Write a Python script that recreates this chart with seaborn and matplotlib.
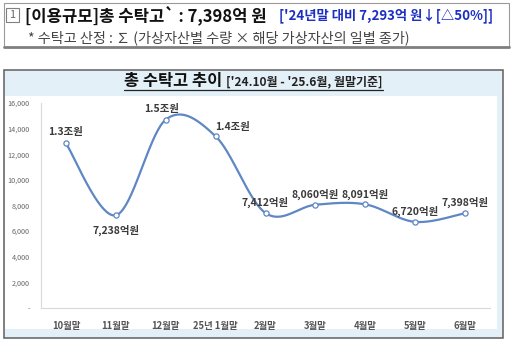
import numpy as np
import pandas as pd
import seaborn as sns
import matplotlib.pyplot as plt
from matplotlib.patches import Rectangle
from matplotlib.lines import Line2D

categories = ['10월말', '11월말', '12월말', '25년 1월말', '2월말', '3월말', '4월말', '5월말', '6월말']
values = [12850, 7238, 14700, 13400, 7412, 8060, 8091, 6720, 7398]
point_labels = ['1.3조원', '7,238억원', '1.5조원', '1.4조원', '7,412억원',
                '8,060억원', '8,091억원', '6,720억원', '7,398억원']
yticks = [0, 2000, 4000, 6000, 8000, 10000, 12000, 14000, 16000]
ytick_labels = ['-', '2,000', '4,000', '6,000', '8,000', '10,000', '12,000', '14,000', '16,000']

sns.set_theme(style='white')
FAM = ['Noto Sans CJK KR', 'DejaVu Sans']
plt.rcParams['font.family'] = FAM

W, H = 512, 346
fig = plt.figure(figsize=(W / 100, H / 100), dpi=100)
fig.patch.set_facecolor('white')


def fx(x):
    return x / W


def fy(y):
    return 1 - y / H


# ---- header box ----
fig.patches.append(Rectangle((fx(4), fy(47)), fx(505), 44 / H, transform=fig.transFigure,
                             facecolor='white', edgecolor='#9a9a9a', lw=0.8, zorder=0))
fig.add_artist(Line2D([fx(4), fx(509)], [fy(47), fy(47)], transform=fig.transFigure,
                      color='#7f7f7f', lw=2.0))
fig.patches.append(Rectangle((fx(6), fy(22)), fx(13), 14 / H, transform=fig.transFigure,
                             facecolor='white', edgecolor='#808080', lw=0.8, zorder=1))
fig.text(fx(12.5), fy(15), '1', fontsize=8, color='#666666', ha='center', va='center')
fig.text(fx(25), fy(15), '[이용규모]총 수탁고` : 7,398억 원', fontsize=12, fontweight='bold',
         color='#111111', ha='left', va='center')
fig.text(fx(279), fy(15.5), "['24년말 대비 7,293억 원↓[△50%]]", fontsize=9.6, fontweight='bold',
         color='#1c2fc4', ha='left', va='center')
fig.text(fx(28), fy(37.5), '* 수탁고 산정 : ∑ (가상자산별 수량 × 해당 가상자산의 일별 종가)', fontsize=10.2,
         color='#444444', ha='left', va='center')

# ---- chart frame ----
fig.patches.append(Rectangle((fx(4), fy(338)), fx(499), 268 / H, transform=fig.transFigure,
                             facecolor='#e4f0f7', edgecolor='#5f5f5f', lw=1.1, zorder=0))
fig.patches.append(Rectangle((fx(5), fy(329)), fx(492), 233 / H, transform=fig.transFigure,
                             facecolor='white', edgecolor='none', lw=0, zorder=0.5))

t1 = fig.text(fx(124), fy(81), '총 수탁고 추이', fontsize=11.8, fontweight='bold', color='#111111',
              ha='left', va='center')
t2 = fig.text(fx(226), fy(81.5), "['24.10월 - '25.6월, 월말기준]", fontsize=8.6, fontweight='bold',
              color='#222222', ha='left', va='center')

# ---- axes ----
ax = fig.add_axes([fx(41), 38 / H, fx(449), 205 / H])
ax.set_facecolor('none')
ax.set_zorder(3)

x = np.arange(len(values))
P = np.column_stack([x, np.array(values, dtype=float)])
Pext = np.vstack([P[0], P, P[-1]])
curve = []
ts = np.linspace(0, 1, 40)
for i in range(len(P) - 1):
    p0, p1, p2, p3 = Pext[i], Pext[i + 1], Pext[i + 2], Pext[i + 3]
    b1 = p1 + (p2 - p0) / 6
    b2 = p2 - (p3 - p1) / 6
    seg = ((1 - ts)[:, None] ** 3 * p1 + 3 * ((1 - ts) ** 2 * ts)[:, None] * b1
           + 3 * ((1 - ts) * ts ** 2)[:, None] * b2 + (ts ** 3)[:, None] * p2)
    curve.append(seg if i == 0 else seg[1:])
curve = np.vstack(curve)
cdf = pd.DataFrame({'x': curve[:, 0], 'y': curve[:, 1]})
sns.lineplot(data=cdf, x='x', y='y', sort=False, ax=ax, color='#5f87c4', lw=1.6,
             estimator=None, clip_on=False)
pdf = pd.DataFrame({'x': x, 'y': values})
sns.scatterplot(data=pdf, x='x', y='y', ax=ax, s=14, color='white', edgecolor='#5f87c4',
                linewidth=0.9, zorder=5, clip_on=False)

offsets = [(0, 8), (0, -11), (-3, 7.5), (12, 7), (0, 7.5), (0, 7.5), (0, 7.5), (0, 7.5), (0, 7.5)]
for xi, yi, lab, off in zip(x, values, point_labels, offsets):
    ax.annotate(lab, (xi, yi), xytext=off, textcoords='offset points', ha='center',
                va='center', fontsize=7.5, fontweight='bold', color='#3a3a3a')

ax.set_xlim(-0.5, len(values) - 0.5)
ax.set_ylim(0, 16000)
ax.set_xticks(x)
ax.set_xticklabels(categories, fontsize=6.8, fontweight='bold', color='#555555')
ax.set_yticks(yticks)
ax.set_yticklabels(ytick_labels, fontsize=5.2, color='#666666')
ax.tick_params(axis='x', length=0, pad=9)
ax.tick_params(axis='y', length=0, pad=8)
for s in ['top', 'right']:
    ax.spines[s].set_visible(False)
for s in ['left', 'bottom']:
    ax.spines[s].set_color('#d9d9d9')
    ax.spines[s].set_linewidth(0.8)
ax.set_xlabel('')
ax.set_ylabel('')

# underline chart title
fig.canvas.draw()
r = fig.canvas.get_renderer()
b1 = t1.get_window_extent(r)
b2 = t2.get_window_extent(r)
fig.add_artist(Line2D([b1.x0 / W, b2.x1 / W], [fy(89.5), fy(89.5)], transform=fig.transFigure,
                      color='#222222', lw=0.9))

fig.savefig('out.png', dpi=100)
